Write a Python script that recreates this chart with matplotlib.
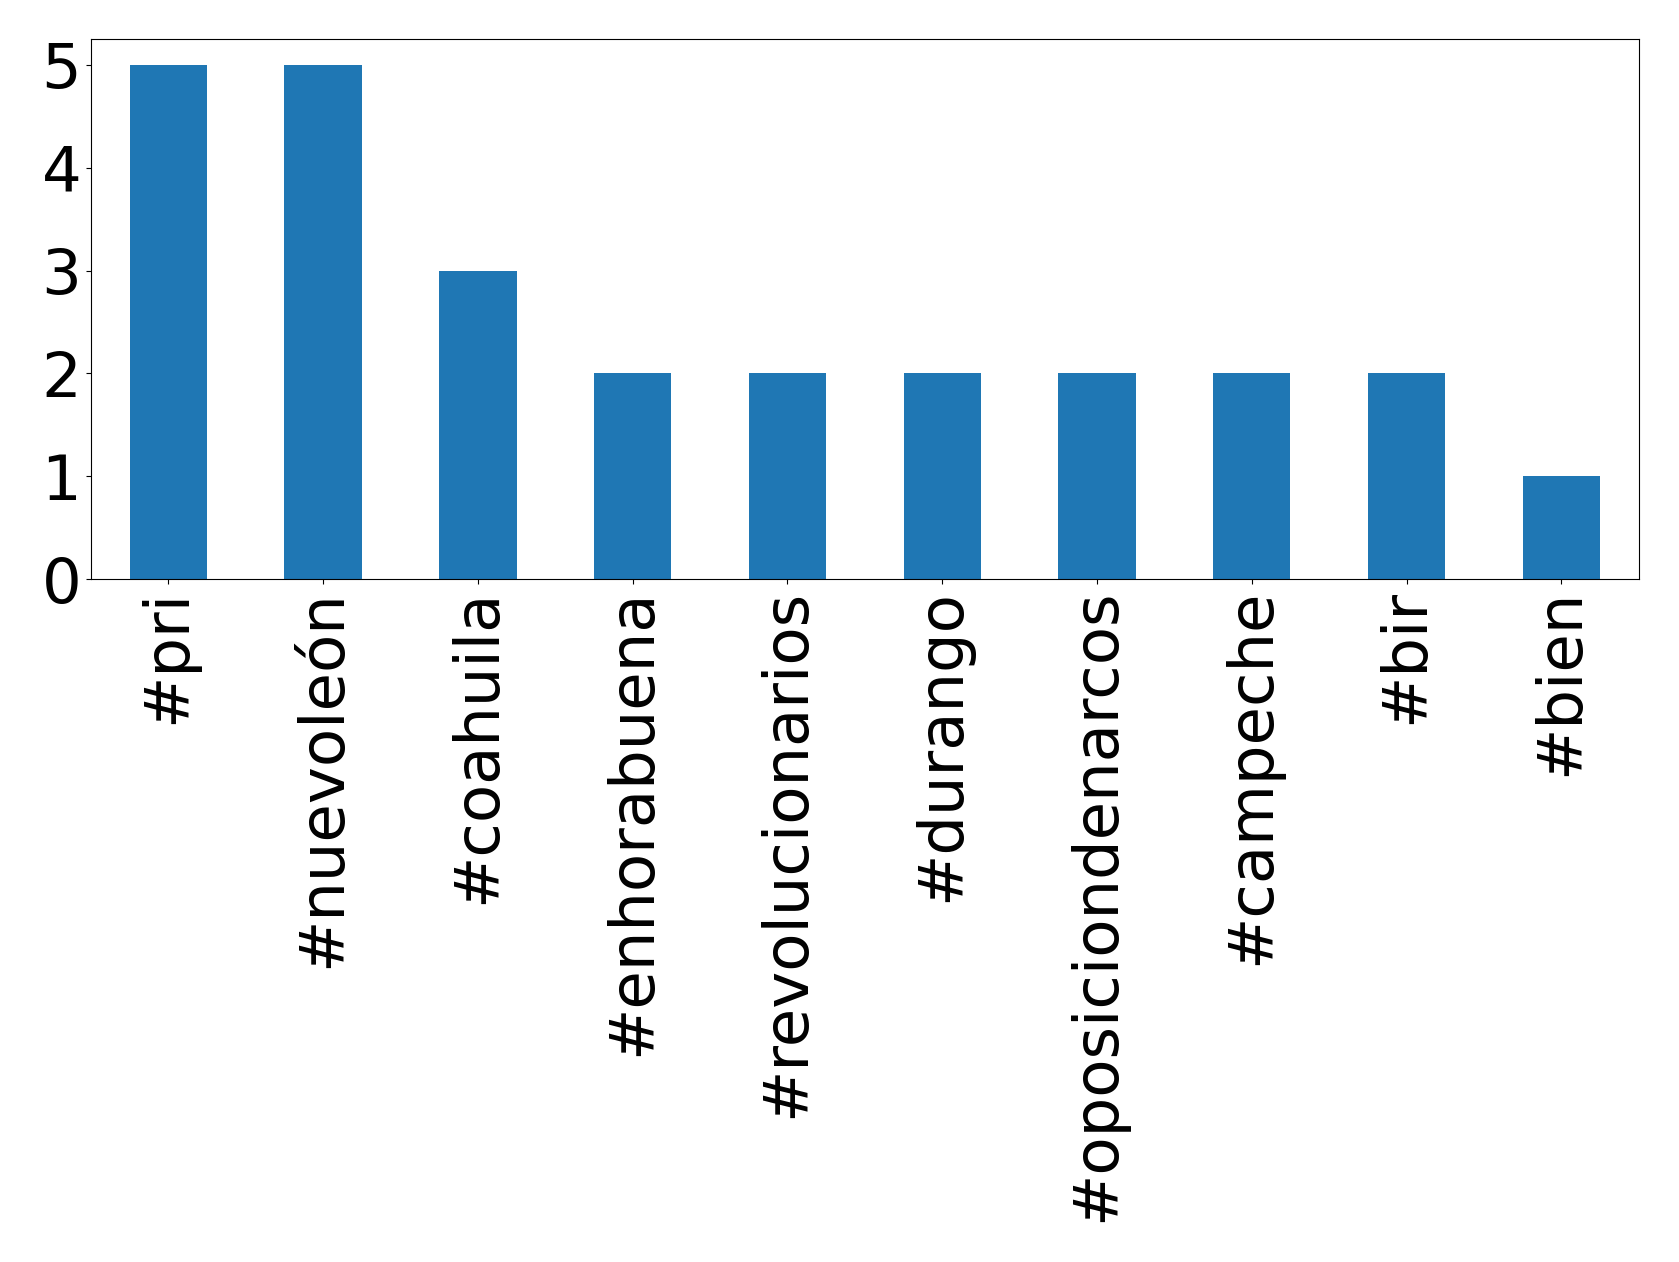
import matplotlib
matplotlib.use("Agg")
import matplotlib.pyplot as plt

tags = ["#pri", "#nuevoleón", "#coahuila", "#enhorabuena", "#revolucionarios",
        "#durango", "#oposiciondenarcos", "#campeche", "#bir", "#bien"]
counts = [5, 5, 3, 2, 2, 2, 2, 2, 2, 1]

fig = plt.figure(figsize=(16.79, 12.62), dpi=100)
ax = fig.add_axes([0.0542, 0.541, 0.976 - 0.0542, 0.969 - 0.541])
x = range(len(tags))
ax.bar(x, counts, width=0.5, color="#1f77b4")
ax.set_xlim(-0.5, len(tags) - 0.5)
ax.set_ylim(0, 5.25)
ax.set_xticks(list(x))
ax.set_xticklabels(tags, rotation=90, fontsize=45)
ax.set_yticks(range(6))
ax.tick_params(axis="y", labelsize=45)
fig.savefig("out.png", dpi=100)
